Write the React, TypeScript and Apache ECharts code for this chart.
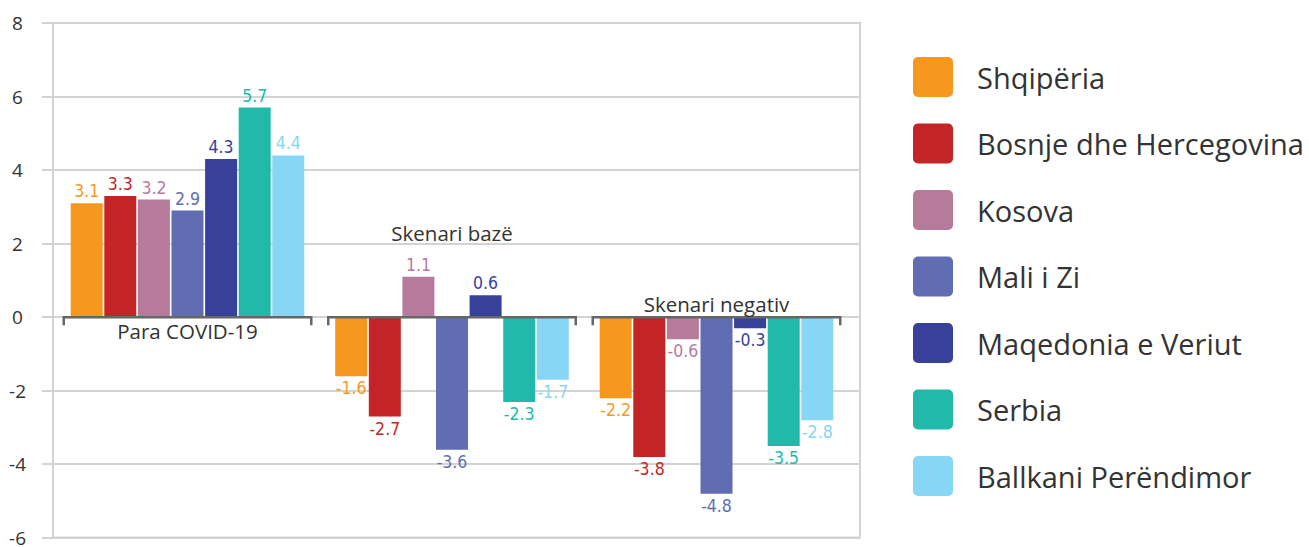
import React, { useEffect, useRef } from "react";
import * as echarts from "echarts";

const categories = ["Para COVID-19", "Skenari bazë", "Skenari negativ"];
const seriesNames = [
  "Shqipëria",
  "Bosnje dhe Hercegovina",
  "Kosova",
  "Mali i Zi",
  "Maqedonia e Veriut",
  "Serbia",
  "Ballkani Perëndimor",
];
const shqiperia = [3.1, -1.6, -2.2];
const bosnje = [3.3, -2.7, -3.8];
const kosova = [3.2, 1.1, -0.6];
const maliZi = [2.9, -3.6, -4.8];
const maqedonia = [4.3, 0.6, -0.3];
const serbia = [5.7, -2.3, -3.5];
const ballkani = [4.4, -1.7, -2.8];
const yMin = -6;
const yMax = 8;
const yStep = 2;

const seriesValues = [shqiperia, bosnje, kosova, maliZi, maqedonia, serbia, ballkani];
const colors = ["#F7981E", "#C32526", "#B67A9B", "#616DB3", "#38419A", "#21BAAA", "#87D6F5"];

const TEXT = "#333333";
const GRIDC = "#d3d3d3";
const SANS = "'Open Sans', 'Noto Sans', sans-serif";
const COND = "'DejaVu Sans Condensed', 'Liberation Sans Narrow', 'DejaVu Sans', sans-serif";

export default function App() {
  const ref = useRef<HTMLDivElement>(null);
  useEffect(() => {
    if (!ref.current) return;
    const chart = echarts.init(ref.current, undefined, { renderer: "svg" });
    const barSeries = seriesNames.map((name, si) => ({
      name,
      type: "bar",
      xAxisIndex: 1,
      yAxisIndex: 1,
      barWidth: 32,
      barGap: "5%",
      itemStyle: { color: colors[si] },
      label: {
        show: true,
        color: colors[si],
        fontFamily: COND,
        fontSize: 17.5,
        distance: 3,
        formatter: (p: any) => Number(p.value).toFixed(1),
      },
      data: seriesValues[si].map((v) => ({
        value: v,
        label: { position: v < 0 ? "bottom" : "top" },
      })),
      z: 2,
    }));

    const bracketSeries = {
      type: "custom",
      xAxisIndex: 1,
      yAxisIndex: 1,
      z: 5,
      silent: true,
      data: categories.map((_, i) => [i, 0]),
      encode: { x: 0, y: 1 },
      renderItem: (params: any, api: any) => {
        const idx = api.value(0);
        const c = api.coord([idx, 0]);
        const w = api.size([1, 0])[0];
        const half = w / 2 - 8.5;
        const x0 = c[0] - half;
        const x1 = c[0] + half;
        const y = c[1];
        let ty = y + 14;
        if (idx === 1) ty = api.coord([idx, 2.29])[1];
        else if (idx === 2) ty = y - 13;
        return {
          type: "group",
          children: [
            {
              type: "polyline",
              shape: { points: [[x0, y + 8], [x0, y], [x1, y], [x1, y + 8]] },
              style: { stroke: "#666666", lineWidth: 2.5, fill: null },
            },
            {
              type: "text",
              x: c[0],
              y: ty,
              style: {
                text: categories[idx],
                fill: TEXT,
                font: `20.5px ${SANS}`,
                align: "center",
                verticalAlign: "middle",
              },
            },
          ],
        };
      },
    };

    chart.setOption({
      animation: false,
      backgroundColor: "#ffffff",
      grid: [
        {
          left: 53,
          top: 23,
          width: 807,
          height: 515,
          show: true,
          borderColor: GRIDC,
          borderWidth: 2,
          backgroundColor: "transparent",
        },
        { left: 55.25, top: 23, width: 793.5, height: 515 },
      ],
      xAxis: [
        { type: "value", gridIndex: 0, show: false },
        {
          type: "category",
          gridIndex: 1,
          data: categories,
          show: false,
        },
      ],
      yAxis: [
        {
          type: "value",
          gridIndex: 0,
          min: yMin,
          max: yMax,
          interval: yStep,
          axisLine: { show: true, lineStyle: { color: GRIDC, width: 2 } },
          axisTick: { show: true, inside: false, length: 11, lineStyle: { color: GRIDC, width: 2 } },
          splitLine: { show: true, lineStyle: { color: GRIDC, width: 2 } },
          axisLabel: {
            color: TEXT,
            fontFamily: SANS,
            fontSize: 19,
            align: "center",
            margin: 35.5,
          },
        },
        {
          type: "value",
          gridIndex: 1,
          min: yMin,
          max: yMax,
          interval: yStep,
          show: false,
          splitLine: { show: false },
        },
      ],
      legend: {
        orient: "vertical",
        left: 913,
        top: 57,
        padding: 0,
        itemWidth: 40,
        itemHeight: 40,
        itemGap: 26.5,
        icon: "path://M5,0H35A5,5,0,0,1,40,5V35A5,5,0,0,1,35,40H5A5,5,0,0,1,0,35V5A5,5,0,0,1,5,0Z",
        data: seriesNames,
        textStyle: {
          color: TEXT,
          fontFamily: SANS,
          fontSize: 29,
          padding: [0, 0, 0, 19],
        },
      },
      series: [...barSeries, bracketSeries],
    });
    return () => chart.dispose();
  }, []);
  return (
    <div
      ref={ref}
      style={{ position: "fixed", left: 0, top: 0, width: 1309, height: 547, background: "#fff" }}
    />
  );
}
